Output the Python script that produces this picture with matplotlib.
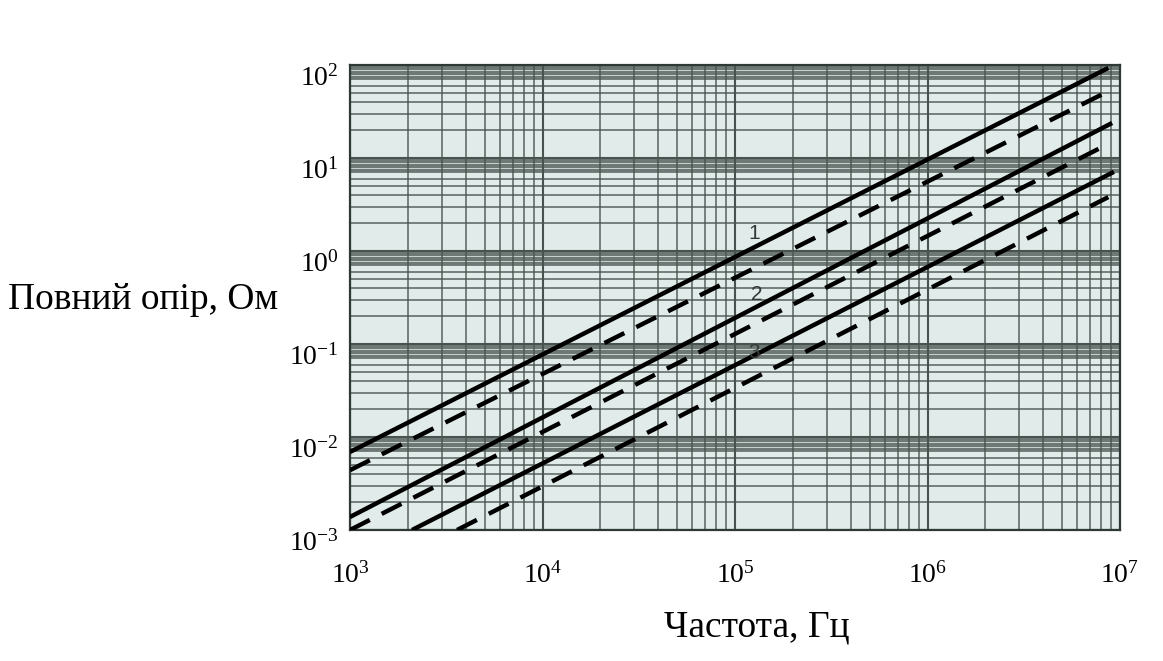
import matplotlib
matplotlib.use("Agg")
import matplotlib.pyplot as plt
import matplotlib.transforms as mtransforms
from matplotlib.ticker import FixedLocator, NullFormatter
import numpy as np

# ---- data ----
line1_solid_f = [1e3, 8.7e6]
line1_solid_z = [6.9e-3, 93]
line1_dash_f = [1e3, 8.5e6]
line1_dash_z = [4.4e-3, 51]
line2_solid_f = [1e3, 9.1e6]
line2_solid_z = [1.38e-3, 23.8]
line2_dash_f = [1e3, 8.3e6]
line2_dash_z = [1.0e-3, 13.5]
line3_solid_f = [2.1e3, 9.3e6]
line3_solid_z = [1.0e-3, 7.1]
line3_dash_f = [3.6e3, 8.7e6]
line3_dash_z = [1.0e-3, 3.8]

curve_labels = ["1", "2", "3"]
curve_label_f = [1.26e5, 1.29e5, 1.26e5]
curve_label_z = [1.55, 0.34, 0.081]

x_ticks = [1e3, 1e4, 1e5, 1e6, 1e7]
x_ticklabels = ["$10^{3}$", "$10^{4}$", "$10^{5}$", "$10^{6}$", "$10^{7}$"]
y_ticks = [1e-3, 1e-2, 1e-1, 1e0, 1e1, 1e2]
y_ticklabels = ["$10^{-3}$", "$10^{-2}$", "$10^{-1}$", "$10^{0}$", "$10^{1}$", "$10^{2}$"]

xlabel = "Частота, Гц"
ylabel = "Повний опір, Ом"

plt.rcParams['font.family'] = ['Liberation Serif', 'DejaVu Serif']
plt.rcParams['mathtext.fontset'] = 'custom'
plt.rcParams['mathtext.rm'] = 'Liberation Serif'
plt.rcParams['mathtext.it'] = 'Liberation Serif:italic'

fig = plt.figure(figsize=(11.63, 6.61), dpi=100)
ax = fig.add_axes([350/1163, 1-530/661, 770/1163, 465/661])
ax.set_xscale('log')
ax.set_yscale('log')
ax.set_xlim(1e3, 1e7)
ax.set_ylim(1e-3, 1e2)
ax.set_facecolor('#e1ebe9')

grid_col = '#48534f'
# vertical grid lines
xminor = [m * 10**k for k in range(3, 7) for m in range(2, 10)]
ax.xaxis.set_minor_locator(FixedLocator(xminor))
# horizontal grid lines (dense log paper)
ymults = [2, 3, 4, 5, 6, 7, 7.5, 8, 8.5, 9, 9.5]
yminor = [m * 10**k for k in range(-3, 2) for m in ymults]
ax.yaxis.set_minor_locator(FixedLocator(yminor))
ax.xaxis.set_minor_formatter(NullFormatter())
ax.yaxis.set_minor_formatter(NullFormatter())

# darker bands just below each decade line
for k in range(-2, 3):
    ax.axhspan(0.7 * 10**k, 10**k, color='#b4bdbb', alpha=0.6, lw=0, zorder=0.5)

ax.grid(True, which='major', color=grid_col, lw=1.5, zorder=1)
ax.grid(True, which='minor', color=grid_col, lw=1.1, alpha=0.9, zorder=1)
ax.set_axisbelow(True)

lw = 3.2
ls_d = (0, (5, 3))
ax.plot(line1_solid_f, line1_solid_z, color='black', lw=lw, solid_capstyle='butt', zorder=3)
ax.plot(line1_dash_f, line1_dash_z, color='black', lw=lw, linestyle=ls_d, zorder=3)
ax.plot(line2_solid_f, line2_solid_z, color='black', lw=lw, solid_capstyle='butt', zorder=3)
ax.plot(line2_dash_f, line2_dash_z, color='black', lw=lw, linestyle=ls_d, zorder=3)
ax.plot(line3_solid_f, line3_solid_z, color='black', lw=lw, solid_capstyle='butt', zorder=3)
ax.plot(line3_dash_f, line3_dash_z, color='black', lw=lw, linestyle=ls_d, zorder=3)

for t, f, z in zip(curve_labels, curve_label_f, curve_label_z):
    ax.text(f, z, t, fontsize=15, color='#333837', ha='center', va='center', zorder=4,
            family=['Liberation Sans', 'DejaVu Sans'])

ax.set_xticks(x_ticks)
ax.set_xticklabels(x_ticklabels)
ax.set_yticks(y_ticks)
ax.set_yticklabels(y_ticklabels)
ax.tick_params(which='both', length=0)
ax.tick_params(axis='x', labelsize=20, pad=23)
ax.tick_params(axis='y', labelsize=20, pad=8)

off = mtransforms.ScaledTranslation(0, -10/100, fig.dpi_scale_trans)
for lab in ax.get_yticklabels():
    lab.set_transform(lab.get_transform() + off)

for sp in ax.spines.values():
    sp.set_color('#2f3836')
    sp.set_linewidth(1.6)

fig.text(143/1163, 1-300/661, ylabel, fontsize=27, ha='center', va='center')
fig.text(757/1163, 1-627/661, xlabel, fontsize=27, ha='center', va='center')

fig.savefig('out.png', dpi=100, facecolor='white')
